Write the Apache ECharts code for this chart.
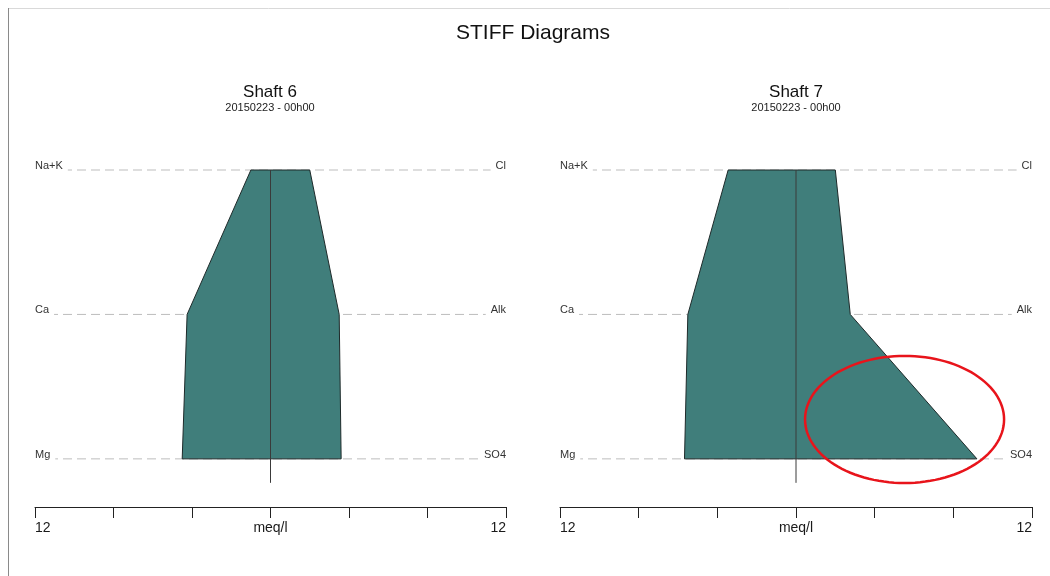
<!DOCTYPE html>
<html>
<head>
<meta charset="utf-8">
<script src="https://cdn.jsdelivr.net/npm/echarts@6/dist/echarts.min.js"></script>
<style>
html,body{margin:0;padding:0;background:#fff;}
#chart{width:1050px;height:576px;}
</style>
</head>
<body>
<div id="chart"></div>
<script>
// ---- data ----
var mainTitle = 'STIFF Diagrams';
var panelNames = ['Shaft 6', 'Shaft 7'];
var panelDates = ['20150223 - 00h00', '20150223 - 00h00'];
var cationLabels = ['Na+K', 'Ca', 'Mg'];
var anionLabels = ['Cl', 'Alk', 'SO4'];
var rowLevels = [2, 1, 0];
var shaft6Cations = [1.0, 4.25, 4.5];
var shaft6Anions = [2.0, 3.5, 3.6];
var shaft7Cations = [3.45, 5.5, 5.67];
var shaft7Anions = [2.0, 2.76, 9.2];
var axisTicks = [-12, -8, -4, 0, 4, 8, 12];
var axisUnit = 'meq/l';
// highlight ellipse on Shaft 7: [centre meq, centre row, radius meq, radius row]
var highlight = [5.52, 0.273, 5.06, 0.44];

var FONT = '"Liberation Sans", Arial, sans-serif';
var panels = [
  {cat: shaft6Cations, an: shaft6Anions, left: 35, width: 471, cx: 270},
  {cat: shaft7Cations, an: shaft7Anions, left: 560, width: 472, cx: 796}
];

var chart = echarts.init(document.getElementById('chart'));

function polyData(cat, an) {
  var pts = [];
  for (var i = 0; i < cat.length; i++) pts.push([-cat[i], rowLevels[i]]);
  for (var j = an.length - 1; j >= 0; j--) pts.push([an[j], rowLevels[j]]);
  return pts;
}

var grids = [], xAxes = [], yAxes = [], series = [], graphics = [];

graphics.push({type: 'line', shape: {x1: 8, y1: 8.5, x2: 1050, y2: 8.5}, style: {stroke: '#d9d9d9', lineWidth: 1}, silent: true});
graphics.push({type: 'line', shape: {x1: 8.5, y1: 8, x2: 8.5, y2: 576}, style: {stroke: '#8a8a8a', lineWidth: 1}, silent: true});
graphics.push({type: 'text', x: 533, y: 33, style: {text: mainTitle, font: '21px ' + FONT, fill: '#111', textAlign: 'center', textVerticalAlign: 'middle'}});

panels.forEach(function (p, k) {
  graphics.push({type: 'text', x: p.cx, y: 92, style: {text: panelNames[k], font: '17px ' + FONT, fill: '#111', textAlign: 'center', textVerticalAlign: 'middle'}});
  graphics.push({type: 'text', x: p.cx, y: 108, style: {text: panelDates[k], font: '11px ' + FONT, fill: '#222', textAlign: 'center', textVerticalAlign: 'middle'}});

  grids.push({left: p.left, width: p.width, top: 170, height: 337, containLabel: false});
  xAxes.push({
    type: 'value', gridIndex: k, min: axisTicks[0], max: axisTicks[axisTicks.length - 1], interval: 4,
    axisLine: {show: true, onZero: false, lineStyle: {color: '#222', width: 1}},
    axisTick: {show: true, length: 11, lineStyle: {color: '#222', width: 1}},
    splitLine: {show: false},
    axisLabel: {
      show: true, margin: 14, color: '#1a1a1a', fontSize: 14, fontFamily: FONT,
      alignMinLabel: 'left', alignMaxLabel: 'right',
      formatter: function (v) {
        if (v === 0) return axisUnit;
        if (v === axisTicks[0] || v === axisTicks[axisTicks.length - 1]) return String(Math.abs(v));
        return '';
      }
    }
  });
  yAxes.push({type: 'value', gridIndex: k, min: -0.3333, max: 2, show: false, splitLine: {show: false}});

  // dashed row lines + labels
  series.push({
    type: 'custom', xAxisIndex: k, yAxisIndex: k, z: 1, silent: true,
    data: rowLevels.map(function (r, i) { return [r, i]; }),
    encode: {x: -1, y: 0},
    renderItem: function (params, api) {
      var r = api.value(0), i = api.value(1);
      var a = api.coord([-12, r]), b = api.coord([12, r]);
      return {
        type: 'group',
        children: [
          {type: 'line', shape: {x1: a[0], y1: a[1], x2: b[0], y2: b[1]}, style: {stroke: '#bdbdbd', lineWidth: 1, lineDash: [9, 5]}},
          {type: 'text', x: a[0], y: a[1] - 4, style: {text: cationLabels[i], font: '11px ' + FONT, fill: '#333', textAlign: 'left', textVerticalAlign: 'middle', backgroundColor: '#fff', padding: [1, 5, 1, 0]}},
          {type: 'text', x: b[0], y: b[1] - 4, style: {text: anionLabels[i], font: '11px ' + FONT, fill: '#333', textAlign: 'right', textVerticalAlign: 'middle', backgroundColor: '#fff', padding: [1, 0, 1, 5]}}
        ]
      };
    }
  });

  // Stiff polygon
  var pts = polyData(p.cat, p.an);
  series.push({
    type: 'custom', xAxisIndex: k, yAxisIndex: k, z: 3, silent: true,
    data: pts, encode: {x: 0, y: 1},
    renderItem: function (params, api) {
      if (params.dataIndex !== 0) return null;
      var poly = pts.map(function (pt) { return api.coord(pt); });
      return {type: 'polygon', shape: {points: poly}, style: {fill: '#407e7b', stroke: '#1e2a2a', lineWidth: 1}};
    }
  });

  // centre line
  series.push({
    type: 'line', xAxisIndex: k, yAxisIndex: k, z: 4, silent: true, symbol: 'none',
    data: [[0, 2], [0, -0.166]],
    lineStyle: {color: '#3a3a3a', width: 1}
  });
});

// highlight ellipse on Shaft 7
series.push({
  type: 'custom', xAxisIndex: 1, yAxisIndex: 1, z: 10, silent: true,
  data: [highlight], encode: {x: 0, y: 1},
  renderItem: function (params, api) {
    var c = api.coord([api.value(0), api.value(1)]);
    var sz = api.size([api.value(2), api.value(3)]);
    var pts = [];
    for (var t = 0; t < 120; t++) {
      var ang = t / 120 * Math.PI * 2;
      pts.push([c[0] + sz[0] * Math.cos(ang), c[1] + sz[1] * Math.sin(ang)]);
    }
    return {type: 'polygon', shape: {points: pts}, style: {fill: 'none', stroke: '#e8141b', lineWidth: 2.5}};
  }
});

chart.setOption({
  animation: false,
  backgroundColor: '#fff',
  grid: grids,
  xAxis: xAxes,
  yAxis: yAxes,
  series: series,
  graphic: graphics
});
</script>
</body>
</html>
